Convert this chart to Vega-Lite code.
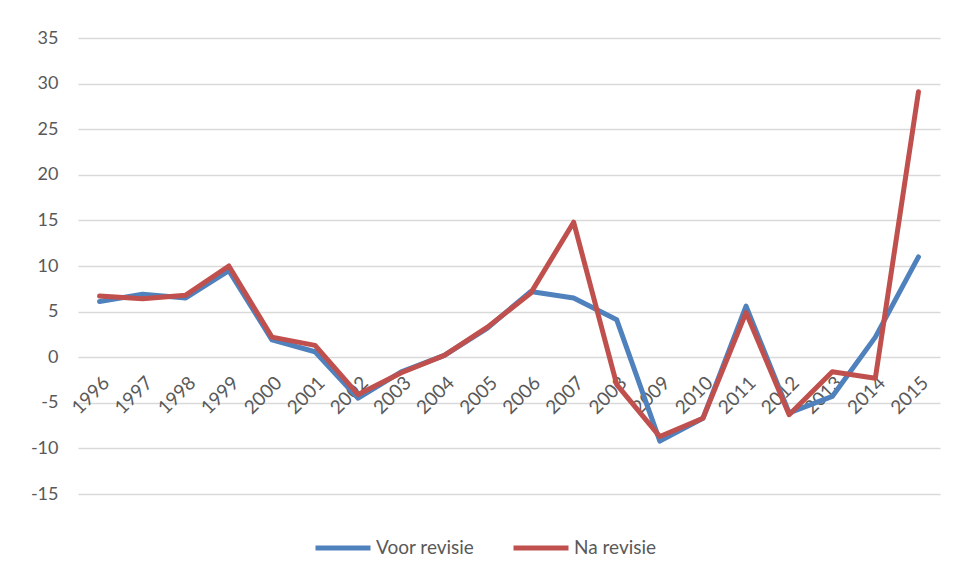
{
  "$schema": "https://vega.github.io/schema/vega-lite/v6.json",
  "width": 862,
  "height": 456,
  "autosize": "none",
  "padding": {"left": 78, "top": 38, "right": 19, "bottom": 87},
  "background": "white",
  "data": {
    "values": [
      {"jaar": "1996", "serie": "Voor revisie", "waarde": 6.1},
      {"jaar": "1997", "serie": "Voor revisie", "waarde": 6.9},
      {"jaar": "1998", "serie": "Voor revisie", "waarde": 6.5},
      {"jaar": "1999", "serie": "Voor revisie", "waarde": 9.5},
      {"jaar": "2000", "serie": "Voor revisie", "waarde": 1.9},
      {"jaar": "2001", "serie": "Voor revisie", "waarde": 0.6},
      {"jaar": "2002", "serie": "Voor revisie", "waarde": -4.5},
      {"jaar": "2003", "serie": "Voor revisie", "waarde": -1.6},
      {"jaar": "2004", "serie": "Voor revisie", "waarde": 0.2},
      {"jaar": "2005", "serie": "Voor revisie", "waarde": 3.2},
      {"jaar": "2006", "serie": "Voor revisie", "waarde": 7.2},
      {"jaar": "2007", "serie": "Voor revisie", "waarde": 6.5},
      {"jaar": "2008", "serie": "Voor revisie", "waarde": 4.1},
      {"jaar": "2009", "serie": "Voor revisie", "waarde": -9.2},
      {"jaar": "2010", "serie": "Voor revisie", "waarde": -6.7},
      {"jaar": "2011", "serie": "Voor revisie", "waarde": 5.6},
      {"jaar": "2012", "serie": "Voor revisie", "waarde": -6.1},
      {"jaar": "2013", "serie": "Voor revisie", "waarde": -4.3},
      {"jaar": "2014", "serie": "Voor revisie", "waarde": 2.2},
      {"jaar": "2015", "serie": "Voor revisie", "waarde": 11.0},
      {"jaar": "1996", "serie": "Na revisie", "waarde": 6.7},
      {"jaar": "1997", "serie": "Na revisie", "waarde": 6.4},
      {"jaar": "1998", "serie": "Na revisie", "waarde": 6.8},
      {"jaar": "1999", "serie": "Na revisie", "waarde": 10.0},
      {"jaar": "2000", "serie": "Na revisie", "waarde": 2.2},
      {"jaar": "2001", "serie": "Na revisie", "waarde": 1.3},
      {"jaar": "2002", "serie": "Na revisie", "waarde": -4.1},
      {"jaar": "2003", "serie": "Na revisie", "waarde": -1.7},
      {"jaar": "2004", "serie": "Na revisie", "waarde": 0.2},
      {"jaar": "2005", "serie": "Na revisie", "waarde": 3.3},
      {"jaar": "2006", "serie": "Na revisie", "waarde": 7.0},
      {"jaar": "2007", "serie": "Na revisie", "waarde": 14.8},
      {"jaar": "2008", "serie": "Na revisie", "waarde": -3.0},
      {"jaar": "2009", "serie": "Na revisie", "waarde": -8.7},
      {"jaar": "2010", "serie": "Na revisie", "waarde": -6.7},
      {"jaar": "2011", "serie": "Na revisie", "waarde": 4.9},
      {"jaar": "2012", "serie": "Na revisie", "waarde": -6.3},
      {"jaar": "2013", "serie": "Na revisie", "waarde": -1.6},
      {"jaar": "2014", "serie": "Na revisie", "waarde": -2.3},
      {"jaar": "2015", "serie": "Na revisie", "waarde": 29.1}
    ]
  },
  "mark": {"type": "line", "strokeWidth": 5, "strokeJoin": "round", "strokeCap": "round"},
  "encoding": {
    "x": {
      "field": "jaar",
      "type": "ordinal",
      "scale": {"type": "point", "padding": 0.5},
      "axis": {
        "title": null,
        "offset": -137,
        "domain": false,
        "ticks": false,
        "grid": false,
        "labelAngle": -45,
        "labelPadding": 16,
        "labelFont": "Lato",
        "labelFontSize": 19,
        "labelColor": "#595959"
      }
    },
    "y": {
      "field": "waarde",
      "type": "quantitative",
      "scale": {"domain": [-15, 35], "nice": false, "zero": false},
      "axis": {
        "title": null,
        "values": [-15, -10, -5, 0, 5, 10, 15, 20, 25, 30, 35],
        "labelExpr": "replace(datum.label, '−', '-')",
        "domain": false,
        "ticks": false,
        "gridColor": "#D9D9D9",
        "gridWidth": 1.3,
        "labelPadding": 20,
        "labelFont": "Lato",
        "labelFontSize": 18,
        "labelColor": "#595959"
      }
    },
    "color": {
      "field": "serie",
      "type": "nominal",
      "scale": {"domain": ["Voor revisie", "Na revisie"], "range": ["#4F81BD", "#C0504D"]},
      "legend": {
        "title": null,
        "orient": "none",
        "direction": "horizontal",
        "legendX": 235,
        "legendY": 480,
        "symbolType": "stroke",
        "symbolSize": 3025,
        "symbolStrokeWidth": 5,
        "labelFont": "Lato",
        "labelFontSize": 19,
        "labelColor": "#595959",
        "labelOffset": 3,
        "columnPadding": 28
      }
    }
  },
  "config": {"view": {"stroke": null}}
}
